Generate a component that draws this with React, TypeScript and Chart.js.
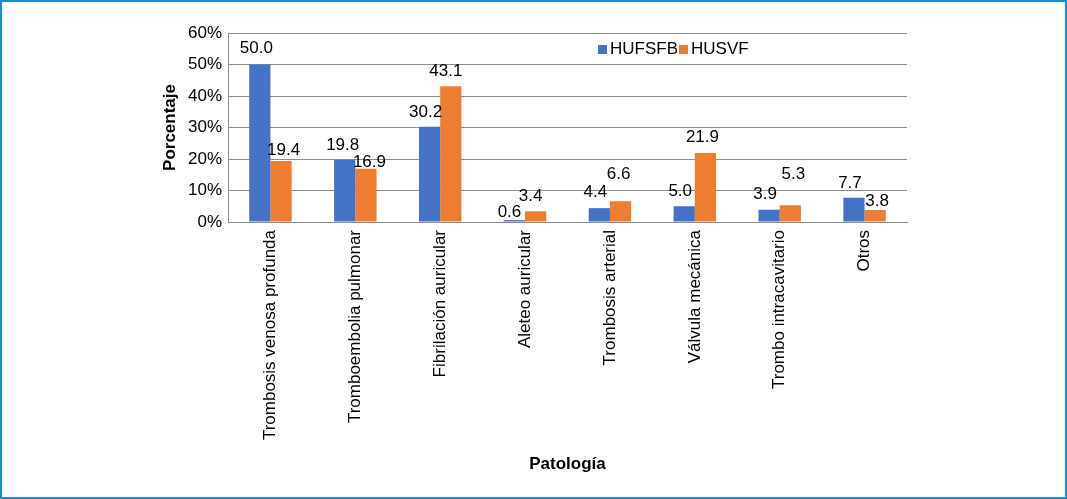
import React, { useEffect, useRef } from "react";
import { Chart, registerables } from "chart.js";

Chart.register(...registerables);

const categories = [
  "Trombosis venosa profunda",
  "Tromboembolia pulmonar",
  "Fibrilación auricular",
  "Aleteo auricular",
  "Trombosis arterial",
  "Válvula mecánica",
  "Trombo intracavitario",
  "Otros",
];
const seriesNames = ["HUFSFB", "HUSVF"];
const hufsfb = [50.0, 19.8, 30.2, 0.6, 4.4, 5.0, 3.9, 7.7];
const husvf = [19.4, 16.9, 43.1, 3.4, 6.6, 21.9, 5.3, 3.8];
const yTicks = [0, 10, 20, 30, 40, 50, 60];

// label placement tweaks (px) as in the original figure
const labelGapA = [12, 10, 10, 3, 11, 10, 11, 10];
const labelGapB = [6, 2, 10, 10, 22, 11, 26, 4];
const labelDxA = [-3.5, -2, -4, -5, -4, -4, -4, -4];
const labelDxB = [2.5, 3.5, -5, -5, -2, -3, 3, 2];

const BLUE = "#4472C4";
const ORANGE = "#ED7D31";
const FONT = "'Liberation Sans', Arial, sans-serif";

const labelsPlugin = {
  id: "valueLabels",
  afterDatasetsDraw(chart: any) {
    const ctx = chart.ctx;
    ctx.save();
    ctx.font = `17px ${FONT}`;
    ctx.fillStyle = "#000";
    ctx.textAlign = "center";
    ctx.textBaseline = "alphabetic";
    chart.data.datasets.forEach((ds: any, di: number) => {
      const meta = chart.getDatasetMeta(di);
      const gaps = di === 0 ? labelGapA : labelGapB;
      const dxs = di === 0 ? labelDxA : labelDxB;
      meta.data.forEach((bar: any, i: number) => {
        const v = ds.data[i] as number;
        ctx.fillText(v.toFixed(1), bar.x + dxs[i], bar.y - gaps[i]);
      });
    });
    ctx.restore();
  },
};

const legendPlugin = {
  id: "customLegend",
  afterDraw(chart: any) {
    const ctx = chart.ctx;
    ctx.save();
    ctx.font = `17px ${FONT}`;
    ctx.textBaseline = "middle";
    ctx.textAlign = "left";
    let x = 598;
    const yc = 49.5;
    chart.data.datasets.forEach((ds: any) => {
      ctx.fillStyle = ds.backgroundColor;
      ctx.fillRect(x, yc - 4.5, 9, 9);
      x += 12;
      ctx.fillStyle = "#000";
      ctx.fillText(ds.label, x, yc);
      x += ctx.measureText(ds.label).width + 1;
    });
    ctx.restore();
  },
};

export default function App() {
  const ref = useRef<HTMLCanvasElement | null>(null);
  useEffect(() => {
    if (!ref.current) return;
    const chart = new Chart(ref.current, {
      type: "bar",
      data: {
        labels: categories,
        datasets: [
          { label: seriesNames[0], data: hufsfb, backgroundColor: BLUE, barPercentage: 1, categoryPercentage: 0.5 },
          { label: seriesNames[1], data: husvf, backgroundColor: ORANGE, barPercentage: 1, categoryPercentage: 0.5 },
        ],
      },
      options: {
        animation: false,
        responsive: false,
        devicePixelRatio: 1,
        layout: { padding: { left: 150, right: 160, top: 33, bottom: 20 } },
        plugins: { legend: { display: false }, tooltip: { enabled: false } },
        scales: {
          x: {
            grid: { display: false, drawTicks: false },
            border: { display: true, color: "#8c8c8c", width: 1 },
            ticks: {
              color: "#000",
              font: { family: FONT, size: 17 },
              minRotation: 90,
              maxRotation: 90,
              padding: 8,
              autoSkip: false,
            },
            title: {
              display: true,
              text: "Patología",
              color: "#000",
              font: { family: FONT, size: 17, weight: "bold" },
              padding: { top: 0, bottom: 4 },
            },
            afterFit: (s: any) => {
              s.height = 257;
            },
          },
          y: {
            min: 0,
            max: 60,
            afterBuildTicks: (s: any) => {
              s.ticks = yTicks.map((v) => ({ value: v }));
            },
            grid: { color: "#8c8c8c", lineWidth: 1, drawTicks: false },
            border: { display: true, color: "#8c8c8c", width: 1 },
            ticks: {
              color: "#000",
              font: { family: FONT, size: 17 },
              padding: 6,
              callback: (v: any) => `${v}%`,
            },
            title: {
              display: true,
              text: "Porcentaje",
              color: "#000",
              font: { family: FONT, size: 17, weight: "bold" },
              padding: { top: 10, bottom: 0 },
            },
            afterFit: (s: any) => {
              s.width = 78;
            },
          },
        },
      },
      plugins: [labelsPlugin, legendPlugin],
    } as any);
    return () => chart.destroy();
  }, []);
  return (
    <div style={{ position: "absolute", left: 0, top: 0, width: 1067, height: 499, background: "#fff" }}>
      <canvas ref={ref} width={1067} height={499} style={{ position: "absolute", left: 0, top: 0, width: 1067, height: 499 }} />
      <div
        style={{
          position: "absolute",
          left: 0,
          top: 0,
          width: 1067,
          height: 499,
          boxSizing: "border-box",
          border: "2px solid #1a8fd0",
          pointerEvents: "none",
        }}
      />
    </div>
  );
}
